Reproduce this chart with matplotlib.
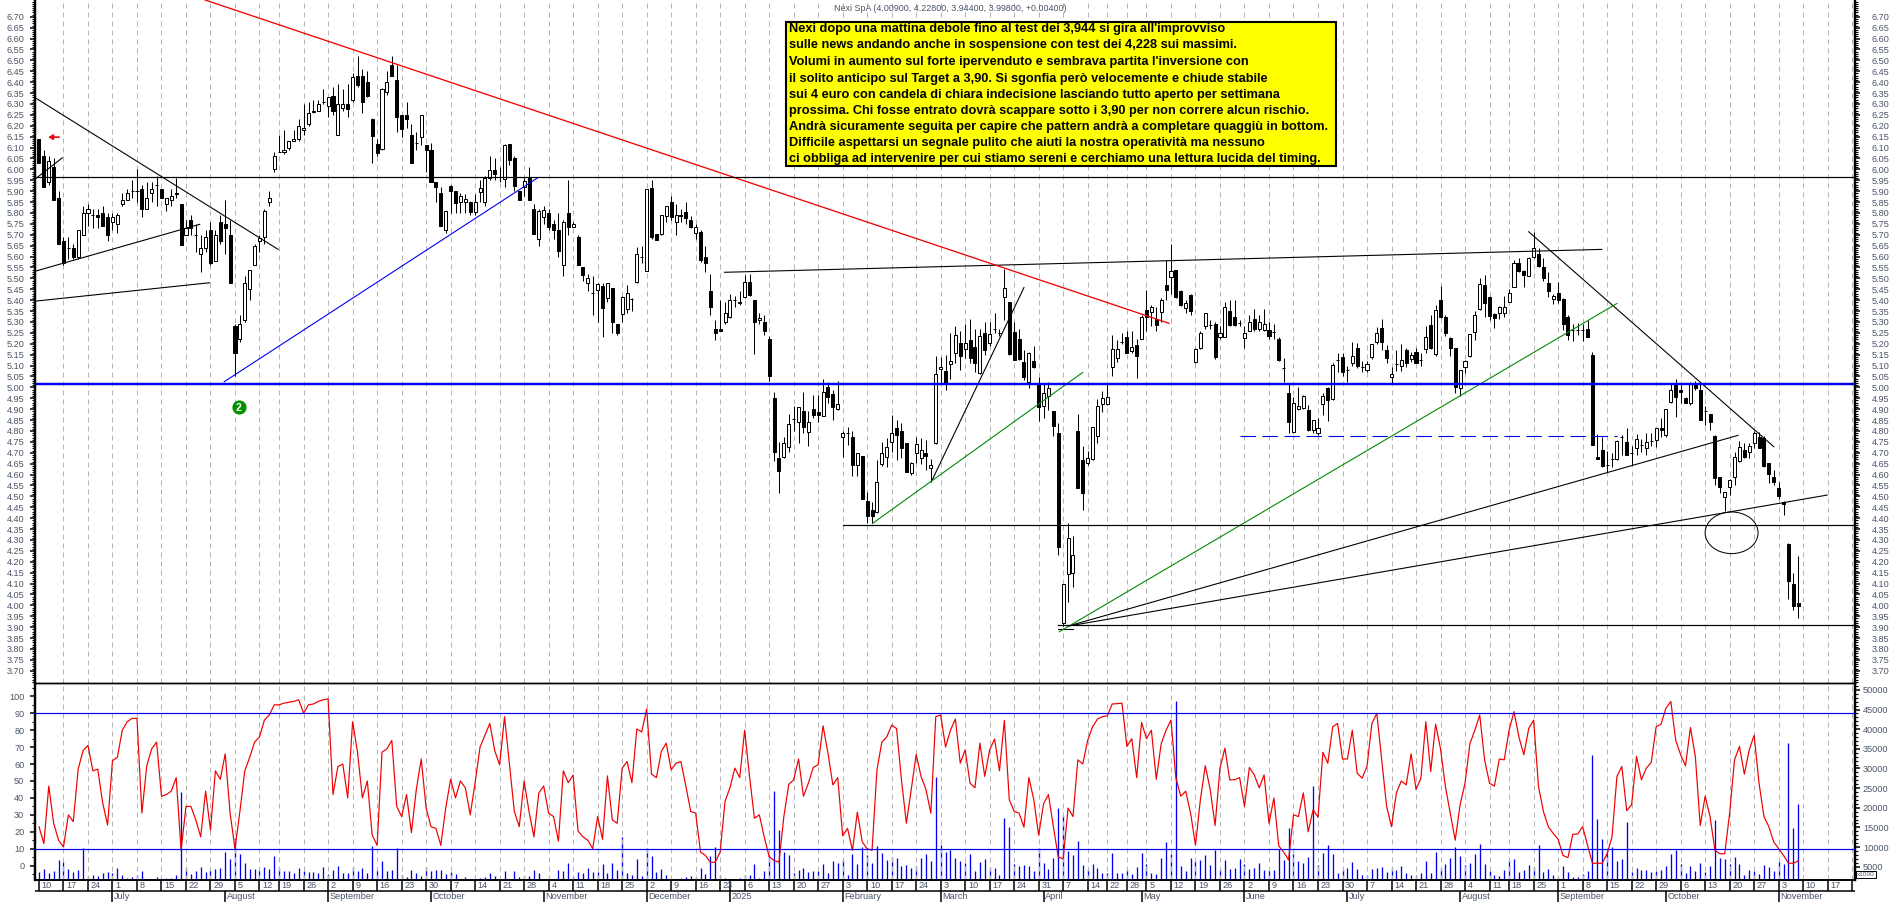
import matplotlib
matplotlib.use('Agg')
import matplotlib.pyplot as plt
from matplotlib.patches import Ellipse, Rectangle
from matplotlib.ticker import MultipleLocator, FixedLocator, FormatStrFormatter

plt.rcParams['font.family'] = ['Liberation Sans', 'DejaVu Sans']

title = 'Nexi SpA (4.00900, 4.22800, 3.94400, 3.99800, +0.00400)'

opens = [6.14,6.06,5.94,6.01,5.87,5.67,5.64,5.64,5.60,5.70,
    5.80,5.79,5.79,5.80,5.78,5.76,5.75,5.84,5.86,5.90,
    5.90,5.91,5.82,5.89,5.93,5.91,5.84,5.86,5.89,5.84,
    5.70,5.77,5.70,5.61,5.64,5.72,5.58,5.76,5.75,5.70,
    5.28,5.22,5.31,5.45,5.56,5.67,5.69,5.85,6.00,6.08,
    6.08,6.10,6.13,6.14,6.18,6.21,6.27,6.27,6.31,6.29,
    6.335,6.16,6.28,6.30,6.32,6.43,6.43,6.40,6.23,6.115,
    6.095,6.355,6.48,6.41,6.25,6.25,6.16,6.12,6.15,6.11,
    6.09,5.94,5.89,5.72,5.925,5.90,5.85,5.85,5.85,5.805,
    5.895,5.85,5.96,5.995,5.965,5.955,6.115,6.05,5.90,5.92,
    5.96,5.82,5.68,5.78,5.80,5.75,5.72,5.56,5.80,5.735,
    5.69,5.55,5.48,5.435,5.445,5.465,5.41,5.455,5.29,5.335,
    5.36,5.405,5.485,5.60,5.535,5.915,5.705,5.705,5.785,5.85,
    5.76,5.79,5.805,5.77,5.71,5.715,5.60,5.44,5.27,5.27,
    5.30,5.325,5.40,5.39,5.415,5.485,5.40,5.31,5.30,5.22,
    4.95,4.674,4.679,4.728,4.853,4.843,4.89,4.797,4.899,4.888,
    4.87,5.0,4.968,4.899,4.774,4.792,4.771,4.645,4.685,4.478,
    4.437,4.43,4.648,4.682,4.75,4.812,4.798,4.743,4.606,4.70,
    4.677,4.697,4.631,4.743,5.083,5.073,5.106,5.159,5.202,5.174,
    5.217,5.183,5.064,5.248,5.202,5.27,5.25,5.415,5.39,5.255,
    5.22,5.115,5.026,5.121,5.018,4.916,4.962,4.891,4.789,3.92,
    4.142,4.15,4.798,4.667,4.651,4.67,4.777,4.922,4.922,5.092,
    5.133,5.208,5.229,5.168,5.194,5.22,5.354,5.347,5.316,5.344,
    5.47,5.507,5.538,5.44,5.362,5.426,5.118,5.179,5.28,5.285,
    5.29,5.232,5.232,5.35,5.325,5.297,5.225,5.26,5.316,5.27,
    5.263,5.263,5.252,5.222,5.09,4.972,4.797,4.899,4.904,4.896,
    4.804,4.789,4.924,4.995,4.945,5.125,5.14,5.08,5.11,5.179,
    5.095,5.08,5.14,5.206,5.271,5.171,5.049,5.105,5.10,5.171,
    5.13,5.163,5.125,5.176,5.286,5.151,5.40,5.321,5.225,5.179,
    4.995,5.095,5.145,5.252,5.359,5.469,5.413,5.335,5.339,5.339,
    5.393,5.462,5.569,5.532,5.512,5.599,5.61,5.55,5.477,5.404,
    5.434,5.404,5.321,5.263,5.263,5.263,5.266,5.148,4.682,4.715,
    4.644,4.67,4.67,4.771,4.751,4.697,4.723,4.738,4.723,4.754,
    4.758,4.812,4.781,4.934,5.011,4.988,4.95,4.93,5.011,4.988,
    4.893,4.878,4.777,4.587,4.498,4.544,4.587,4.664,4.712,4.705,
    4.743,4.774,4.77,4.651,4.59,4.537,4.476,4.28,4.098,4.009]

closes = [6.03,5.92,6.04,5.86,5.66,5.57,5.64,5.60,5.72,5.80,
    5.82,5.79,5.78,5.74,5.70,5.78,5.79,5.86,5.89,5.90,
    5.90,5.82,5.87,5.91,5.93,5.87,5.87,5.88,5.885,5.655,
    5.73,5.73,5.70,5.64,5.69,5.57,5.70,5.67,5.73,5.48,
    5.16,5.29,5.48,5.54,5.65,5.685,5.81,5.87,6.06,6.08,
    6.09,6.13,6.14,6.20,6.19,6.26,6.265,6.30,6.31,6.33,
    6.27,6.30,6.30,6.275,6.425,6.385,6.31,6.335,6.155,6.075,
    6.37,6.40,6.43,6.24,6.185,6.23,6.03,6.12,6.25,6.09,
    5.94,5.92,5.74,5.81,5.90,5.845,5.88,5.865,5.805,5.85,
    5.915,5.96,5.995,5.98,5.965,6.11,6.045,5.925,5.86,5.945,
    5.86,5.705,5.81,5.815,5.735,5.72,5.625,5.76,5.735,5.75,
    5.56,5.515,5.50,5.435,5.475,5.365,5.48,5.30,5.25,5.415,
    5.435,5.405,5.61,5.60,5.91,5.69,5.675,5.79,5.83,5.78,
    5.79,5.785,5.775,5.735,5.735,5.585,5.57,5.37,5.25,5.26,
    5.34,5.40,5.40,5.385,5.485,5.425,5.30,5.32,5.26,5.05,
    4.705,4.618,4.743,4.832,4.853,4.908,4.82,4.843,4.873,4.873,
    4.977,4.954,4.911,4.924,4.789,4.792,4.645,4.70,4.488,4.41,
    4.41,4.564,4.697,4.725,4.789,4.782,4.723,4.613,4.654,4.741,
    4.712,4.685,4.642,5.06,5.092,5.018,5.122,5.24,5.144,5.202,
    5.133,5.113,5.235,5.171,5.245,5.27,5.25,5.458,5.153,5.125,
    5.128,5.046,5.156,5.095,4.911,4.972,4.995,4.823,4.269,4.10,
    4.31,4.229,4.54,4.517,4.677,4.82,4.914,4.95,4.954,5.174,
    5.174,5.208,5.159,5.187,5.144,5.325,5.324,5.37,5.286,5.403,
    5.446,5.535,5.416,5.377,5.388,5.35,5.174,5.251,5.339,5.285,
    5.14,5.25,5.37,5.286,5.286,5.297,5.248,5.30,5.27,5.30,
    5.29,5.235,5.252,5.125,5.09,4.84,4.927,4.916,4.96,4.804,
    4.85,4.812,4.96,4.942,5.102,5.125,5.07,5.08,5.145,5.098,
    5.095,5.105,5.197,5.251,5.206,5.133,5.06,5.105,5.125,5.11,
    5.148,5.113,5.125,5.232,5.179,5.355,5.324,5.251,5.179,5.003,
    5.08,5.12,5.245,5.33,5.472,5.388,5.329,5.32,5.37,5.37,
    5.434,5.569,5.535,5.515,5.595,5.638,5.556,5.50,5.443,5.419,
    5.40,5.289,5.24,5.263,5.263,5.263,5.229,4.735,4.67,4.639,
    4.644,4.67,4.755,4.771,4.69,4.697,4.763,4.738,4.751,4.754,
    4.812,4.804,4.899,4.988,4.957,4.98,4.93,5.018,4.995,4.85,
    4.893,4.84,4.586,4.541,4.518,4.575,4.679,4.725,4.679,4.732,
    4.789,4.723,4.639,4.605,4.567,4.501,4.465,4.114,3.995,3.998]

highs = [6.14,6.09,6.06,6.05,5.90,5.69,5.69,5.66,5.72,5.83,
    5.84,5.82,5.82,5.83,5.80,5.80,5.80,5.89,5.91,5.95,
    6.00,5.93,5.94,5.94,5.97,5.91,5.87,5.91,5.96,5.84,
    5.77,5.79,5.75,5.70,5.72,5.76,5.72,5.79,5.86,5.77,
    5.29,5.33,5.51,5.54,5.66,5.70,5.82,5.90,6.08,6.16,
    6.18,6.13,6.18,6.23,6.30,6.31,6.32,6.32,6.37,6.33,
    6.38,6.39,6.37,6.39,6.44,6.52,6.46,6.45,6.235,6.14,
    6.375,6.45,6.52,6.48,6.25,6.31,6.21,6.17,6.25,6.11,
    6.12,5.94,5.92,5.81,5.93,5.90,5.89,5.885,5.855,5.885,
    5.95,5.97,6.06,6.05,6.01,6.115,6.115,6.06,5.90,5.96,
    6.01,5.84,5.82,5.83,5.82,5.77,5.80,5.77,5.95,5.76,
    5.70,5.55,5.52,5.51,5.48,5.48,5.48,5.455,5.29,5.42,
    5.47,5.41,5.645,5.65,5.91,5.95,5.705,5.79,5.83,5.88,
    5.84,5.82,5.85,5.785,5.75,5.72,5.65,5.52,5.31,5.40,
    5.39,5.43,5.42,5.44,5.515,5.52,5.40,5.34,5.33,5.235,
    4.98,4.75,4.774,4.876,4.914,4.91,4.98,4.89,4.965,4.965,
    5.04,5.026,4.99,5.03,4.80,4.82,4.80,4.70,4.685,4.518,
    4.476,4.667,4.75,4.766,4.873,4.85,4.838,4.743,4.66,4.771,
    4.766,4.76,4.67,5.144,5.14,5.148,5.248,5.28,5.26,5.29,
    5.316,5.27,5.27,5.30,5.30,5.34,5.27,5.545,5.39,5.30,
    5.27,5.17,5.164,5.19,5.049,5.02,5.026,4.893,4.838,4.10,
    4.376,4.318,4.878,4.731,4.71,4.82,4.945,4.983,5.018,5.24,
    5.217,5.248,5.26,5.26,5.22,5.33,5.446,5.38,5.37,5.41,
    5.584,5.657,5.54,5.445,5.40,5.43,5.18,5.26,5.34,5.31,
    5.30,5.28,5.39,5.40,5.40,5.31,5.28,5.33,5.36,5.33,
    5.358,5.30,5.293,5.23,5.133,5.015,4.957,5.003,4.965,4.92,
    4.85,4.86,4.972,5.00,5.113,5.158,5.159,5.10,5.206,5.205,
    5.12,5.12,5.20,5.275,5.312,5.194,5.095,5.171,5.199,5.179,
    5.163,5.179,5.16,5.283,5.33,5.378,5.465,5.33,5.23,5.18,
    5.08,5.125,5.245,5.35,5.50,5.515,5.42,5.34,5.375,5.419,
    5.45,5.584,5.595,5.54,5.60,5.714,5.64,5.592,5.53,5.43,
    5.482,5.41,5.33,5.29,5.294,5.29,5.309,5.163,4.786,4.774,
    4.71,4.697,4.76,4.78,4.812,4.73,4.786,4.765,4.79,4.789,
    4.815,4.858,4.90,5.018,5.037,5.01,4.955,5.026,5.03,5.026,
    4.914,4.88,4.78,4.59,4.52,4.58,4.705,4.755,4.743,4.743,
    4.80,4.797,4.775,4.655,4.62,4.567,4.48,4.285,4.15,4.228]

lows = [6.03,5.92,5.93,5.86,5.66,5.56,5.59,5.59,5.59,5.70,
    5.74,5.73,5.73,5.74,5.67,5.72,5.71,5.83,5.86,5.87,
    5.85,5.78,5.82,5.85,5.83,5.87,5.81,5.83,5.87,5.655,
    5.70,5.70,5.62,5.53,5.62,5.56,5.58,5.66,5.61,5.48,
    5.05,5.21,5.30,5.40,5.56,5.62,5.66,5.83,5.99,6.08,
    6.07,6.09,6.13,6.13,6.16,6.20,6.26,6.27,6.30,6.24,
    6.25,6.16,6.27,6.24,6.31,6.38,6.26,6.33,6.03,6.06,
    6.09,6.34,6.43,6.17,6.15,6.19,6.03,6.09,6.11,5.99,
    5.94,5.85,5.74,5.71,5.80,5.80,5.80,5.80,5.79,5.79,
    5.85,5.83,5.95,5.95,5.94,5.92,6.02,5.90,5.86,5.88,
    5.86,5.705,5.65,5.75,5.72,5.68,5.60,5.51,5.70,5.735,
    5.56,5.49,5.44,5.33,5.30,5.23,5.39,5.25,5.24,5.30,
    5.34,5.35,5.48,5.57,5.535,5.68,5.675,5.70,5.76,5.77,
    5.70,5.76,5.75,5.73,5.68,5.575,5.53,5.33,5.217,5.26,
    5.29,5.32,5.37,5.38,5.41,5.42,5.155,5.29,5.24,5.03,
    4.664,4.517,4.675,4.705,4.80,4.746,4.79,4.73,4.861,4.84,
    4.87,4.93,4.85,4.895,4.679,4.735,4.595,4.595,4.488,4.376,
    4.376,4.425,4.64,4.636,4.705,4.667,4.674,4.613,4.60,4.651,
    4.647,4.62,4.567,4.74,5.02,4.988,5.04,5.11,5.08,5.135,
    5.11,5.07,5.06,5.148,5.19,5.25,5.235,5.31,5.15,5.125,
    5.125,5.034,4.995,5.09,4.847,4.858,4.896,4.777,4.231,3.905,
    4.017,4.086,4.54,4.437,4.645,4.665,4.746,4.888,4.92,5.053,
    5.118,5.20,5.156,5.16,5.044,5.22,5.26,5.28,5.26,5.30,
    5.40,5.43,5.41,5.375,5.34,5.33,5.11,5.175,5.27,5.27,
    5.13,5.22,5.23,5.28,5.28,5.28,5.18,5.26,5.26,5.26,
    5.26,5.22,5.22,5.12,5.026,4.789,4.79,4.895,4.90,4.80,
    4.79,4.78,4.873,4.847,4.94,5.07,5.05,5.026,5.10,5.09,
    5.07,5.07,5.13,5.20,5.17,5.113,5.018,5.076,5.076,5.095,
    5.118,5.11,5.098,5.156,5.175,5.144,5.32,5.235,5.145,4.972,
    4.96,5.064,5.14,5.217,5.355,5.325,5.309,5.274,5.316,5.324,
    5.39,5.46,5.53,5.462,5.51,5.595,5.55,5.49,5.416,5.382,
    5.388,5.263,5.217,5.214,5.24,5.214,5.229,4.735,4.67,4.635,
    4.613,4.636,4.665,4.69,4.69,4.644,4.69,4.705,4.69,4.73,
    4.728,4.773,4.774,4.93,4.865,4.927,4.927,4.919,4.99,4.85,
    4.827,4.804,4.552,4.514,4.434,4.506,4.552,4.66,4.674,4.674,
    4.72,4.72,4.635,4.56,4.552,4.49,4.414,4.03,3.98,3.944]

oscillator = [23,13,47,25,15,11,30,26,57,68,
    71,56,57,37,24,62,64,80,85,87,
    87,31,59,69,73,41,42,44,52,9,
    35,35,27,17,44,21,56,51,66,31,
    10,32,56,64,73,76,86,89,95,95,
    96,96.5,97,98,90,95,95.5,97,98,98.5,
    42,58.5,60,40,85,67,40,50,18,12,
    67,69,74,35,29,42,19.5,45,63,34,
    23,22,12,34,51,40,50,46,30,49,
    70,77,84,68,59.5,88,60,32,23,50,
    32,17,43,47,31,29,14.5,56,49,53.5,
    20.5,17,15,10,29,15.5,53,27,25,57.5,
    61.5,49,80.7,79,92.5,54,52,67.5,72.4,56.6,
    60.5,61.5,47,32,31,8,6,2,2,8,
    38,46,57.6,52,80,52.6,28,30,17,5.3,
    3,2,29,48,50.7,63,41,48.7,58,59.6,
    82.6,66.5,47.7,52,17.6,22,9,31.6,14,10,
    9,56.6,73,76,83,81,50.7,25,45,65.7,
    52.7,45,31,88,89,70,80,86.6,60.5,68.4,
    48.7,46,72.4,52.7,68.4,74.8,56,85.8,39,32,
    31,22.7,52,39,18,36.5,42,23,5,4,
    34,29,62.5,60,74,82,86.6,88,88.5,95.5,
    95.7,96,70.4,75,52,84.6,75,80,51,72,
    80,86,51.7,41,44,31,12,39,59,45,
    23.7,57.6,69.4,50.7,50.7,52,35,58,53.6,46,
    53.6,25,40,11.6,8,3.4,30,29,43,20,
    33,28.6,67,60.5,82,84,63,63,80,54.6,
    51.7,58.6,84,90,62.5,35,23,43,50,47.7,
    66,45,51.7,85,55.6,83.6,69,46.7,31,15,
    36,48.7,72,80,89,62.5,48.7,47,63,62.5,
    80,91,76,65.5,81,86,46.7,32,23,19,
    15.6,6,4.7,18.5,18.7,23,12,1.4,1.4,1.4,
    7,17,52.7,58.6,32.5,36,64.5,50.7,57.6,61,
    82,83.6,93,97,74,65.5,59,81.6,64.5,23.7,
    41,29,9,7,7,31,62.5,70.4,54,68.4,
    77,48.7,29,23,14,10,6,1.4,1.4,2.8]

volumes = [3700,4400,3400,3800,6700,6200,4400,3700,4100,9700,
    2700,2900,2600,3400,3700,3400,4700,2900,2100,2400,
    2900,3900,1850,1850,2450,2100,2100,2100,2900,23900,
    4700,3100,3900,4900,3700,4100,4400,4700,8700,7000,
    12400,8200,5900,4400,4400,4100,4900,4400,7700,4700,
    3900,3900,3400,4700,3900,3600,3600,3400,4900,3100,
    4100,5200,3400,3400,4900,3900,4700,3400,10300,4100,
    6400,3900,4100,9700,2900,2400,4100,3400,2600,4900,
    3900,4100,4100,3100,3600,3100,1850,2400,1700,2000,
    2100,2450,3400,2600,1800,3900,1850,3900,2400,2600,
    2500,4100,3400,1600,2000,1800,4100,3900,5900,2600,
    3700,3400,4700,3600,3600,5700,3400,5900,4100,12600,
    3400,2900,7000,2600,9700,7700,3600,4400,2900,2100,
    1850,2100,2400,2600,2400,4700,3100,7700,10000,2900,
    2100,1850,1800,2100,2900,2900,5700,2100,3900,8000,
    24300,14400,8700,8000,3400,4100,4700,3600,3900,3900,
    5700,3400,6400,5900,7000,2900,8200,5700,10000,8000,
    5900,10300,8500,6700,7500,7200,5200,5400,4700,5200,
    7200,8200,6400,27700,10500,8700,9200,7200,6400,5900,
    8200,3900,6200,7000,4700,4700,2900,17300,15000,5700,
    5200,5400,5200,3900,9800,5900,4400,7200,20000,17800,
    9000,8000,11500,5400,4400,5700,4700,3400,3400,8500,
    3400,3400,4100,3100,4900,8500,5700,3400,3100,7200,
    11300,8200,47100,5200,3900,7200,6400,6700,8000,5400,
    9200,4400,6700,4400,4700,7000,5700,4400,4700,5900,
    4100,4100,4100,9500,6700,14900,8200,6400,5900,7500,
    25600,5400,8500,10500,8200,3400,4400,4700,6200,4400,
    2900,2900,4400,4700,4900,3600,4700,4100,5200,3400,
    2900,2900,3400,6400,3400,8700,4700,5700,7200,10000,
    7700,5400,5900,8200,10800,5700,3900,2900,2600,4100,
    6700,7000,3600,4100,5400,4900,10500,3600,4400,2900,
    2300,5200,3600,2400,2400,3100,3900,33400,17100,12000,
    9000,9900,6400,7000,16400,3600,4700,4100,4100,3600,
    3900,4100,5200,8200,9200,5700,3400,5200,3900,5900,
    3600,5200,16900,7200,7000,5700,7500,5700,2900,4100,
    3900,3100,5400,4900,3900,6400,5700,36500,14900,21000]

week_pos = [0,5,10,15,20,25,30,35,40,45,49,54,59,64,69,74,79,84,89,94,99,104,109,114,119,
    124,129,134,139,144,149,154,159,164,169,174,179,184,189,194,199,204,209,214,218,222,
    226,231,236,241,246,251,256,261,266,271,276,281,286,291,296,300,305,310,315,320,325,
    330,335,340,345,350,355,360,365,370]
week_labels = ['10','17','24','1','8','15','22','29','5','12','19','26','2','9','16','23','30','7','14','21','28','4','11','18','25',
    '2','9','16','23','6','13','20','27','3','10','17','24','3','10','17','24','31','7','14','22','28',
    '5','12','19','26','2','9','16','23','30','7','14','21','28','4','11','18','25','1','8','15','22','29',
    '6','13','20','27','3','10','17','']
month_pos = [15,38,59,80,103,124,141,164,184,205,225,246,267,290,310,332,355]
month_labels = ['July','August','September','October','November','December','2025','February','March','April','May','June',
    'July','August','September','October','November']

# trend lines drawn on the chart: (start index, start price, end index, end price)
red_line = (33.9,6.777,230.6,5.294)
blue_line = (37.8,5.026,101.8,5.962)
green_lines = [(170.1,4.376,213,5.069),(208.2,3.879,322,5.385)]
black_lines = [(-0.73,6.328,48.8,5.633),(-0.6,5.534,32.8,5.748),(-0.6,5.396,34.8,5.48),(-0.6,5.959,4.75,6.053),
    (139.9,5.528,318.9,5.633),(182.1,4.567,201,5.458),(210,3.905,346.7,4.78),(210,3.905,364.9,4.506),
    (304,5.714,354,4.728),(208,3.89,211,3.89)]
price_levels = [(-0.73,5.963,'black',1.0),(-0.73,5.015,'#0000f0',2.0),(164,4.367,'black',1.0),(208,3.908,'black',1.0)]
dashed_level = (245,322,4.778)

note_lines = ["Nexi dopo una mattina debole fino al test dei 3,944 si gira all'improvviso",
    'sulle news andando anche in sospensione con test dei 4,228 sui massimi.',
    "Volumi in aumento sul forte ipervenduto e sembrava partita l'inversione con",
    'il solito anticipo sul Target a 3,90. Si sgonfia però velocemente e chiude stabile',
    'sui 4 euro con candela di chiara indecisione lasciando tutto aperto per settimana',
    'prossima. Chi fosse entrato dovrà scappare sotto i 3,90 per non correre alcun rischio.',
    'Andrà sicuramente seguita per capire che pattern andrà a completare quaggiù in bottom.',
    'Difficile aspettarsi un segnale pulito che aiuti la nostra operatività ma nessuno',
    'ci obbliga ad intervenire per cui stiamo sereni e cerchiamo una lettura lucida del timing.']
note_y = [29.3,45.3,61.7,78.7,94.7,110.7,126.7,142.7,158.7]

W, H = 1890, 902
PX = 0.72
TICK_COLOR = '#4a5568'
BLUE = '#0000f0'
LABEL_SIZE = 6.6
xlim = (-0.73, 370.5)
price_ticks = [3.70 + 0.05 * k for k in range(61)]


def add_axes(fig, left, top, right, bottom):
    return fig.add_axes([left / W, 1 - bottom / H, (right - left) / W, (bottom - top) / H])


fig = plt.figure(figsize=(W / 100, H / 100), dpi=100, facecolor='white')
ax = add_axes(fig, 35.4, 0, 1854.6, 683)
price_right = ax.twinx()
ax2 = add_axes(fig, 35.4, 683, 1854.6, 880)
vol_ax = ax2.twinx()
date_ax = add_axes(fig, 35.4, 880, 1854.6, 902)

for a in (ax, ax2):
    a.set_xlim(xlim)
    for w in week_pos[1:]:
        a.axvline(w, color='#b4b4b4', lw=PX, ls=(0, (5, 4)), zorder=1)
    a.set_xticks([])

# candles
x = list(range(len(closes)))
ax.vlines(x, lows, highs, color='black', lw=PX, zorder=3)
for i in x:
    up = closes[i] >= opens[i]
    ax.bar(i, abs(closes[i] - opens[i]), bottom=min(opens[i], closes[i]), width=0.62,
           facecolor='white' if up else 'black', edgecolor='black', lw=PX, zorder=4)

for (x0, y0, x1, y1) in black_lines:
    ax.plot([x0, x1], [y0, y1], color='black', lw=PX * 1.1, zorder=5)
for (x0, y0, x1, y1) in green_lines:
    ax.plot([x0, x1], [y0, y1], color='#008a00', lw=PX * 1.1, zorder=5)
ax.plot(red_line[0::2], red_line[1::2], color='#f00000', lw=PX * 1.3, zorder=5)
ax.plot(blue_line[0::2], blue_line[1::2], color=BLUE, lw=PX * 1.1, zorder=5)
for (x0, y0, col, w) in price_levels:
    ax.plot([x0, xlim[1]], [y0, y0], color=col, lw=PX * w * 1.2, zorder=5)
ax.plot(dashed_level[:2], [dashed_level[2]] * 2, color=BLUE, lw=PX * 1.1, ls=(0, (14, 6)), zorder=5)
ax.add_patch(Ellipse((345.4, 4.333), 10.8, 0.191, fill=False, edgecolor='black', lw=PX, zorder=5))

# small markers
ax.annotate('', xy=(1.9, 6.148), xytext=(4.1, 6.148), zorder=6,
            arrowprops=dict(arrowstyle='-|>,head_width=0.15,head_length=0.25', color='#f00000', lw=1.2, shrinkA=0, shrinkB=0))
ax.scatter([40.8], [4.908], s=85, color='#009000', zorder=6)
ax.text(40.8, 4.906, '2', color='white', fontsize=7.5, fontweight='bold', ha='center', va='center', zorder=7)

for a, pad in ((ax, 4.5), (price_right, 9.0)):
    a.set_ylim(3.644, 6.777)
    a.yaxis.set_major_locator(FixedLocator(price_ticks))
    a.yaxis.set_minor_locator(MultipleLocator(0.01))
    a.yaxis.set_major_formatter(FormatStrFormatter('%.2f'))
    a.tick_params(axis='y', which='major', length=3.5, width=1.1, labelsize=LABEL_SIZE, labelcolor=TICK_COLOR, pad=pad)
    a.tick_params(axis='y', which='minor', length=2.2, width=0.8)
    a.spines['top'].set_visible(False)
    a.spines['left'].set_linewidth(1.6)
    a.spines['right'].set_linewidth(1.6)
    a.spines['bottom'].set_linewidth(PX * 1.4)

# lower panel
ax2.axhline(90, color=BLUE, lw=PX * 1.2, zorder=4)
ax2.axhline(10, color=BLUE, lw=PX * 1.2, zorder=4)
ax2.plot(x, oscillator, color='#f00000', lw=PX * 1.2, zorder=3)
ax2.set_ylim(-8.5, 107.9)
ax2.yaxis.set_major_locator(MultipleLocator(10))
ax2.yaxis.set_minor_locator(MultipleLocator(5))
ax2.tick_params(axis='y', which='major', length=3.5, width=1.1, labelsize=LABEL_SIZE, labelcolor=TICK_COLOR, pad=4.5)
ax2.tick_params(axis='y', which='minor', length=2.2, width=0.8)

vol_ax.set_xlim(xlim)
vol_ax.set_ylim(1600, 51750)
vol_ax.vlines(x, 1600, volumes, color=BLUE, lw=PX * 1.3, zorder=5)
vol_ax.yaxis.set_major_locator(MultipleLocator(5000))
vol_ax.yaxis.set_minor_locator(MultipleLocator(1000))
vol_ax.tick_params(axis='y', which='major', length=3.5, width=1.1, labelsize=LABEL_SIZE, labelcolor=TICK_COLOR, pad=2.5)
vol_ax.tick_params(axis='y', which='minor', length=2.2, width=0.8)
ax2.set_zorder(vol_ax.get_zorder() + 1)
ax2.patch.set_visible(False)
for a in (ax2, vol_ax):
    a.spines['top'].set_visible(False)
    a.spines['left'].set_linewidth(1.6)
    a.spines['right'].set_linewidth(1.6)
    a.spines['bottom'].set_linewidth(1.2)
vol_ax.text(1.0015, 0.015, 'x1000', transform=vol_ax.transAxes, fontsize=4.6, color=TICK_COLOR, ha='left', va='bottom',
            bbox=dict(facecolor='white', edgecolor='black', lw=PX, pad=0.8))

# date rows
date_ax.set_xlim(xlim)
date_ax.set_ylim(22, 0)
date_ax.axis('off')
date_ax.hlines(11, xlim[0], xlim[1], color='black', lw=1.1)
date_ax.vlines(week_pos, 0, 11, color='black', lw=1.1)
date_ax.vlines([141], 0, 11, color='black', lw=1.1)
date_ax.vlines(month_pos, 11, 22, color='black', lw=1.1)
for w, lab in zip(week_pos, week_labels):
    date_ax.text(w + 0.55, 5.8, lab, fontsize=LABEL_SIZE, color=TICK_COLOR, ha='left', va='center')
for m, lab in zip(month_pos, month_labels):
    date_ax.text(m + 0.3, 16.8, lab, fontsize=LABEL_SIZE, color=TICK_COLOR, ha='left', va='center')

# title and note box
fig.text(834 / W, 1 - 8.5 / H, title, fontsize=6.4, color=TICK_COLOR, ha='left', va='center')
fig.add_artist(Rectangle((786 / W, 1 - 166 / H), 550 / W, 144 / H, transform=fig.transFigure,
                         facecolor='#ffff00', edgecolor='black', lw=1.5, zorder=8))
for line, py in zip(note_lines, note_y):
    fig.text(789 / W, 1 - py / H, line, family=['Liberation Sans Narrow', 'Liberation Sans'], fontsize=9.2,
             fontweight='bold', color='black', ha='left', va='center', zorder=9)

fig.savefig('out.png', dpi=100, facecolor='white')
